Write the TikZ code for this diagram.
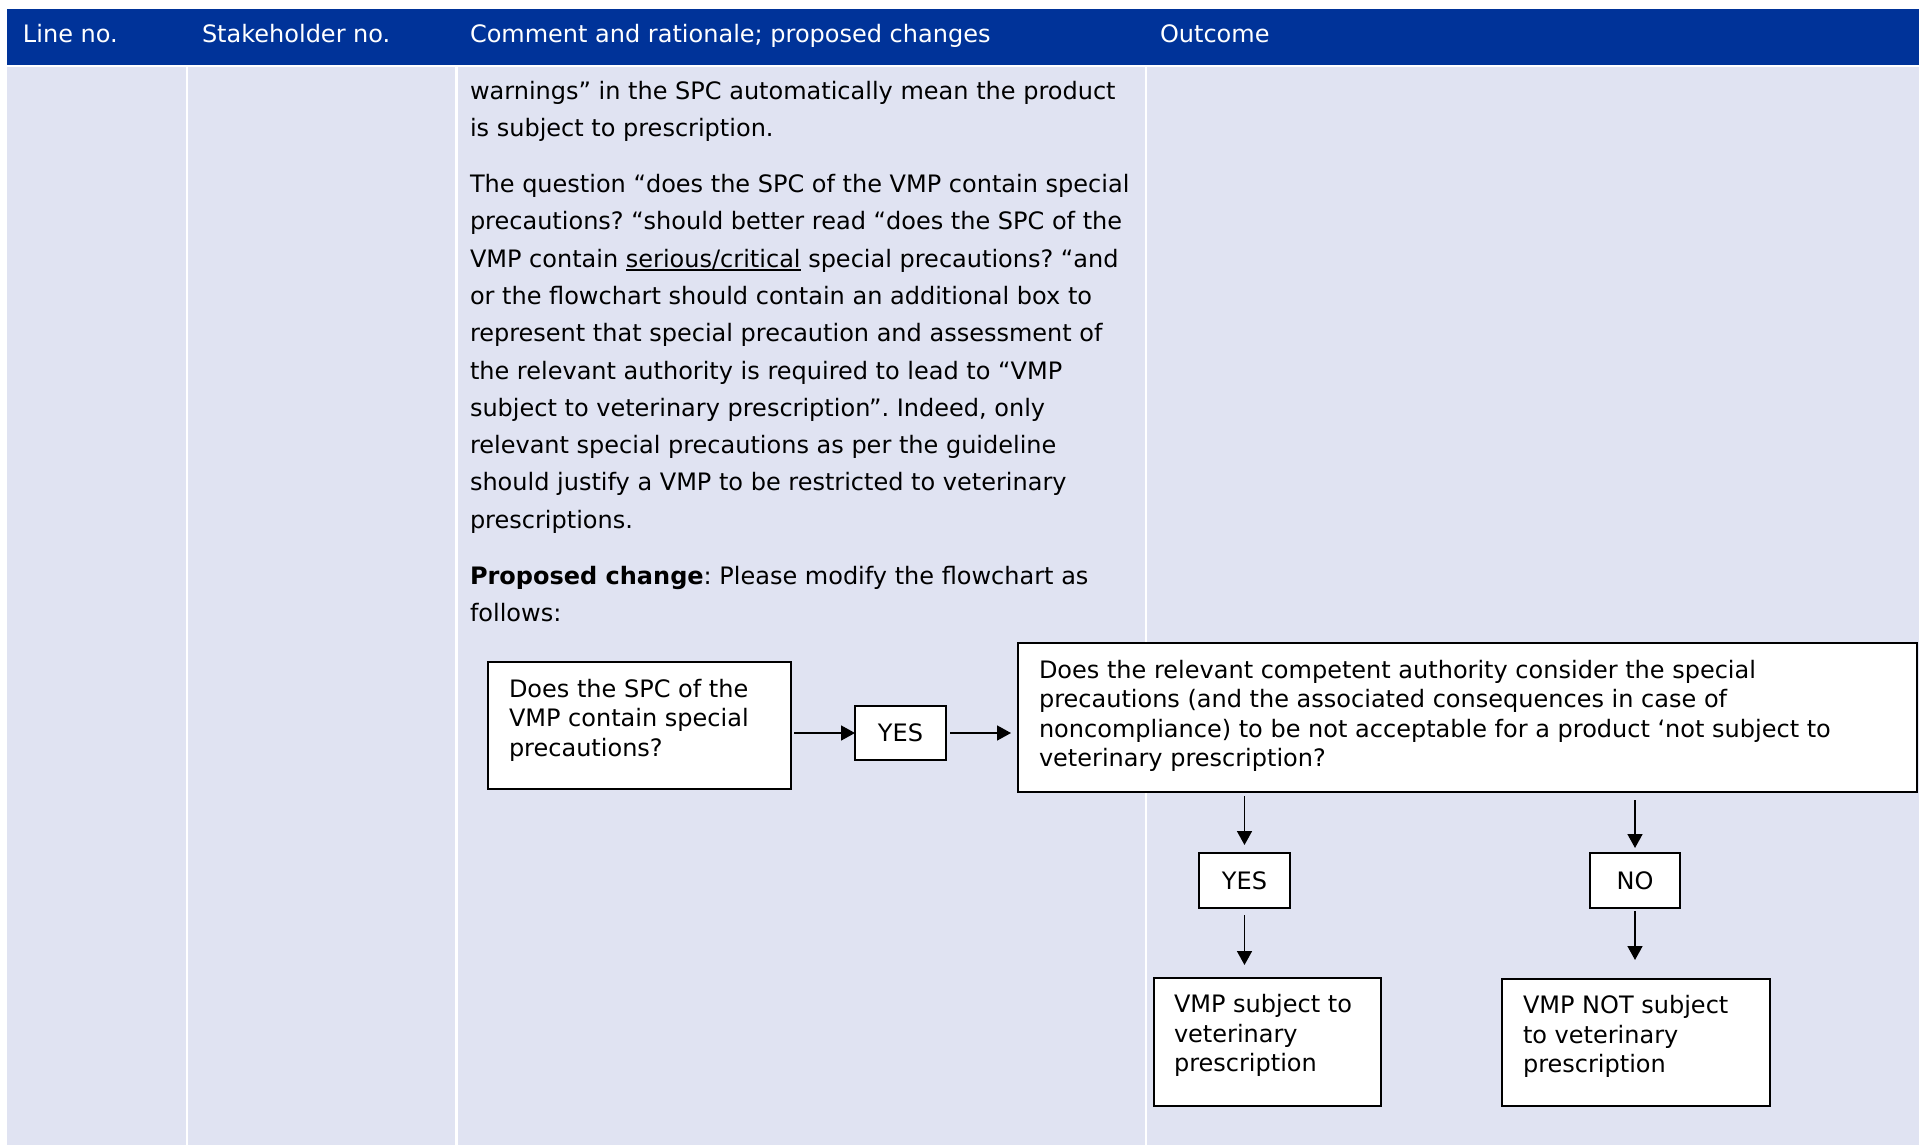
\documentclass[tikz,border=0pt]{standalone}
\usepackage{fontspec}
\setmainfont{DejaVu Sans}
\usetikzlibrary{arrows.meta}
\definecolor{emablue}{RGB}{0,51,153}
\definecolor{cellbg}{RGB}{224,227,242}
\newcommand\myul[1]{\setbox0\hbox{#1}\rlap{\rule[-3.5pt]{\wd0}{1.6pt}}\box0\relax}
\frenchspacing
\begin{document}
\begin{tikzpicture}[x=1pt,y=-1pt,
  txt/.style={anchor=base west, inner sep=0pt, outer sep=0pt, font=\fontsize{24}{29}\selectfont\frenchspacing, text=black},
  head/.style={txt, text=white},
  box/.style={draw=black, line width=2pt, fill=white, anchor=north west, inner sep=0pt, outer sep=0pt},
  tag/.style={box, font=\fontsize{24}{29}\selectfont},
  arr/.style={line width=1.6pt, -{Triangle[length=14pt,width=15pt]}},
]
\fill[white] (0,0) rectangle (1919,1145);
\useasboundingbox (0,0) rectangle (1919,1145);
% table
\fill[emablue] (7,9) rectangle (1919,65);
\fill[cellbg] (7,67) rectangle (186,1145);
\fill[cellbg] (188,67) rectangle (455,1145);
\fill[cellbg] (457.5,67) rectangle (1144.5,1145);
\fill[cellbg] (1146.5,67) rectangle (1919,1145);
% header
\node[head] (h1) at (23,42.5) {Line no.};
\node[head] (h2) at (202,42.5) {Stakeholder no.};
\node[head] (h3) at (470,42.5) {Comment and rationale; proposed changes};
\node[head] (h4) at (1160,42.5) {Outcome};
% body text
\node[txt] (p1) at (470,99.5) {warnings” in the SPC automatically mean the product};
\node[txt] (p2) at (470,136.5) {is subject to prescription.};
\node[txt] (q1) at (470,192.5) {The question “does the SPC of the VMP contain special};
\node[txt] (q2) at (470,229.8) {precautions? “should better read “does the SPC of the};
\node[txt] (q3) at (470,267.1) {VMP contain \myul{serious/critical} special precautions? “and};
\node[txt] (q4) at (470,304.4) {or the flowchart should contain an additional box to};
\node[txt] (q5) at (470,341.7) {represent that special precaution and assessment of};
\node[txt] (q6) at (470,379.0) {the relevant authority is required to lead to “VMP};
\node[txt] (q7) at (470,416.3) {subject to veterinary prescription”. Indeed, only};
\node[txt] (q8) at (470,453.6) {relevant special precautions as per the guideline};
\node[txt] (q9) at (470,490.9) {should justify a VMP to be restricted to veterinary};
\node[txt] (q10) at (470,528.2) {prescriptions.};
\node[txt] (r1) at (470,584.3) {\textbf{Proposed change}: Please modify the flowchart as};
\node[txt] (r2) at (470,621.6) {follows:};
% flowchart boxes
\node[box, minimum width=303pt, minimum height=127pt] (box1) at (488,662) {};
\node[tag, minimum width=91pt, minimum height=54pt] (yes1) at (855,706) {YES};
\node[box, minimum width=899pt, minimum height=149pt] (big) at (1018,643) {};
\node[tag, minimum width=91pt, minimum height=55pt] (yes2) at (1199,853) {YES};
\node[tag, minimum width=90pt, minimum height=55pt] (no) at (1590,853) {NO};
\node[box, minimum width=227pt, minimum height=128pt] (resL) at (1154,978) {};
\node[box, minimum width=268pt, minimum height=127pt] (resR) at (1502,979) {};
% box texts
\node[txt] (b1a) at (509,697) {Does the SPC of the};
\node[txt] (b1b) at (509,726.5) {VMP contain special};
\node[txt] (b1c) at (509,756) {precautions?};
\node[txt] (bga) at (1039,678) {Does the relevant competent authority consider the special};
\node[txt] (bgb) at (1039,707.5) {precautions (and the associated consequences in case of};
\node[txt] (bgc) at (1039,737) {noncompliance) to be not acceptable for a product ‘not subject to};
\node[txt] (bgd) at (1039,766.5) {veterinary prescription?};
\node[txt] (rla) at (1174,1012.6) {VMP subject to};
\node[txt] (rlb) at (1174,1042) {veterinary};
\node[txt] (rlc) at (1174,1071.3) {prescription};
\node[txt] (rra) at (1523,1013.8) {VMP NOT subject};
\node[txt] (rrb) at (1523,1043.2) {to veterinary};
\node[txt] (rrc) at (1523,1072.6) {prescription};
% connectors
\draw[arr, shorten <=3pt] (box1.east |- yes1.west) -- (yes1.west);
\draw[arr, shorten <=4pt, shorten >=7pt] (yes1.east) -- (yes1.east -| big.west);
\draw[arr, shorten <=4pt, shorten >=8pt] (big.south -| yes2.north) -- (yes2.north);
\draw[arr, shorten <=8pt, shorten >=5pt] (big.south -| no.north) -- (no.north);
\draw[arr, shorten <=7pt, shorten >=13pt] (yes2.south) -- (yes2.south |- resL.north);
\draw[arr, shorten <=3pt, shorten >=19pt] (no.south) -- (no.south |- resR.north);
\end{tikzpicture}
\end{document}
